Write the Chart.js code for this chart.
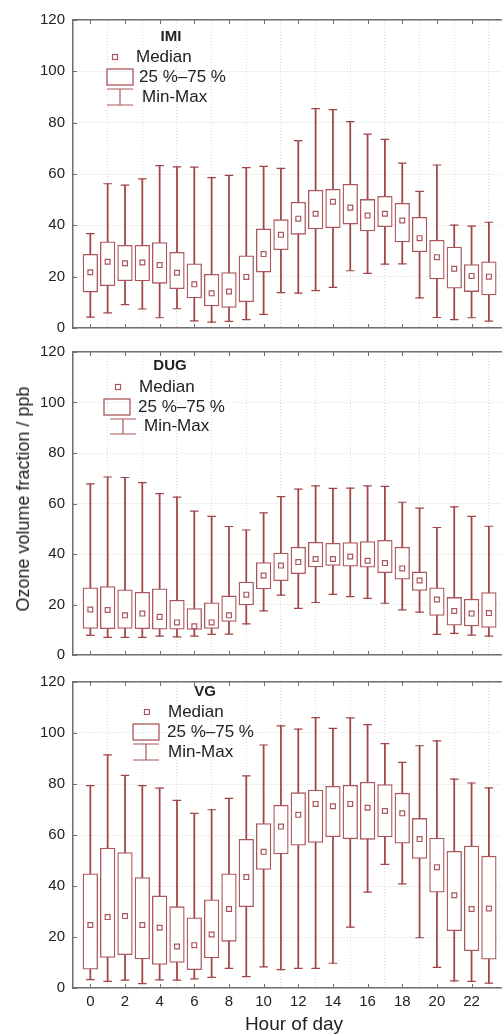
<!DOCTYPE html>
<html>
<head>
<meta charset="utf-8">
<script src="https://cdn.jsdelivr.net/npm/chart.js@4.4.1/dist/chart.umd.min.js"></script>
<style>
  html, body { margin: 0; padding: 0; background: #fff; }
  body { position: relative; width: 502px; height: 1034px; overflow: hidden;
         font-family: "Liberation Sans", Arial, sans-serif; color: #222; }
  canvas { position: absolute; left: 0; }
  .axis-title { position: absolute; white-space: nowrap; }
  #yTitle { left: 23px; top: 499px; font-size: 18px; line-height: 18px;
            transform: translate(-50%, -50%) rotate(-90deg); }
  #xTitle { left: 294px; top: 1014px; font-size: 19px; line-height: 19px;
            transform: translateX(-50%); }
</style>
</head>
<body>
<canvas id="imiChart" width="510" height="345" style="top:0px"></canvas>
<canvas id="dugChart" width="510" height="337" style="top:335px"></canvas>
<canvas id="vgChart" width="510" height="349" style="top:665px"></canvas>
<div class="axis-title" id="yTitle">Ozone volume fraction / ppb</div>
<div class="axis-title" id="xTitle">Hour of day</div>

<script>
// hours of the day
const hours = [0, 1, 2, 3, 4, 5, 6, 7, 8, 9, 10, 11, 12, 13, 14, 15, 16, 17, 18, 19, 20, 21, 22, 23];
const yTicks = [0, 20, 40, 60, 80, 100, 120];
const xTicks = [0, 2, 4, 6, 8, 10, 12, 14, 16, 18, 20, 22];

// IMI
const imiMin = [4.2, 5.9, 9.1, 7.4, 4.0, 7.5, 2.8, 2.3, 2.6, 3.3, 5.3, 13.8, 13.6, 14.6, 15.8, 22.3, 21.3, 24.9, 25.0, 11.7, 4.1, 3.3, 4.0, 2.7];
const imiQ1 = [14.0, 16.5, 18.4, 18.3, 17.4, 15.3, 11.7, 8.6, 8.0, 10.2, 21.8, 30.5, 36.5, 38.6, 39.1, 40.5, 37.8, 39.5, 33.5, 29.7, 19.1, 15.5, 14.2, 12.9];
const imiMedian = [21.7, 25.8, 25.2, 25.5, 24.5, 21.5, 17.0, 13.5, 14.2, 19.9, 28.8, 36.3, 42.6, 44.5, 49.2, 46.9, 43.8, 44.5, 41.9, 35.0, 27.6, 23.1, 20.3, 20.0];
const imiQ3 = [28.7, 33.6, 32.2, 32.2, 33.3, 29.5, 25.0, 20.9, 21.6, 28.1, 38.6, 42.2, 49.0, 53.7, 54.0, 56.0, 50.1, 51.3, 48.6, 43.1, 34.2, 31.5, 24.7, 25.8];
const imiMax = [36.8, 56.2, 55.7, 58.1, 63.3, 62.8, 62.7, 58.6, 59.5, 62.5, 63.0, 62.2, 73.0, 85.5, 85.1, 80.4, 75.5, 73.5, 64.2, 53.2, 63.5, 40.1, 39.7, 41.2];

// DUG
const dugMin = [7.8, 7.0, 7.0, 7.0, 7.5, 7.2, 7.5, 8.2, 8.3, 12.3, 17.5, 23.7, 18.5, 20.8, 24.0, 23.1, 22.4, 20.5, 17.9, 17.0, 8.2, 8.6, 7.9, 7.5];
const dugQ1 = [10.5, 10.4, 10.5, 10.4, 10.2, 10.2, 10.1, 10.5, 13.3, 19.8, 26.2, 29.4, 32.2, 34.9, 35.5, 35.2, 34.8, 32.6, 30.0, 25.6, 15.7, 11.8, 11.5, 10.9];
const dugMedian = [18.0, 17.8, 15.7, 16.4, 15.1, 12.9, 11.4, 12.9, 15.7, 23.9, 31.5, 35.4, 36.8, 38.0, 38.0, 39.0, 37.3, 36.4, 34.3, 29.5, 22.0, 17.4, 16.4, 16.6];
const dugQ3 = [26.6, 27.1, 25.8, 24.8, 26.2, 21.7, 18.4, 20.7, 23.4, 28.9, 36.6, 40.4, 42.7, 44.6, 44.2, 44.5, 44.9, 45.4, 42.7, 32.9, 26.6, 22.8, 22.1, 24.7];
const dugMax = [67.8, 70.5, 70.3, 68.3, 63.9, 62.5, 57.0, 54.9, 50.9, 49.5, 56.3, 62.7, 65.7, 67.0, 66.0, 66.1, 67.0, 66.8, 60.5, 58.2, 50.5, 58.7, 54.9, 51.0];

// VG
const vgMin = [3.3, 2.6, 3.1, 1.7, 3.2, 3.1, 3.6, 4.2, 7.7, 4.5, 8.3, 7.2, 7.7, 7.7, 9.7, 23.9, 37.6, 48.5, 40.8, 19.7, 8.1, 2.8, 2.6, 1.9];
const vgQ1 = [7.4, 12.0, 13.1, 11.4, 9.2, 10.0, 7.2, 11.8, 18.3, 31.9, 46.5, 52.6, 56.0, 57.1, 59.3, 58.5, 58.3, 59.2, 56.8, 50.8, 37.6, 22.5, 14.6, 11.3];
const vgMedian = [24.7, 27.8, 28.2, 24.7, 23.6, 16.3, 16.8, 21.0, 31.0, 43.5, 53.4, 63.3, 67.9, 72.2, 71.3, 72.2, 70.7, 69.4, 68.5, 58.4, 47.4, 36.4, 31.0, 31.2];
const vgQ3 = [44.8, 54.9, 53.1, 43.3, 36.1, 31.9, 27.5, 34.6, 44.8, 58.3, 64.5, 71.7, 76.6, 77.6, 79.1, 79.5, 80.7, 79.8, 76.4, 66.5, 58.8, 53.6, 55.7, 51.7];
const vgMax = [79.4, 91.4, 83.4, 79.4, 78.4, 73.6, 68.5, 69.9, 74.4, 83.2, 95.3, 102.8, 101.5, 106.0, 101.8, 105.9, 103.3, 95.8, 88.5, 95.0, 96.9, 81.9, 80.4, 78.5];

const BOX_COLOR = "#ab565b";
const WHISKER_COLOR = "#a04446";
const FRAME_COLOR = "#707070";
const GRID_COLOR = "#d9d9d9";
const TEXT_COLOR = "#222";
const FONT = '"Liberation Sans", Arial, sans-serif';

Chart.defaults.font.family = FONT;
Chart.defaults.color = TEXT_COLOR;

/**
 * Small inward tick marks on the frame.
 */
const innerTicks = {
  id: "innerTicks",
  afterDraw(chart) {
    const { ctx, chartArea: a, scales } = chart;
    ctx.save();
    ctx.strokeStyle = FRAME_COLOR;
    ctx.lineWidth = 1;
    ctx.beginPath();
    xTicks.forEach((v) => {
      const px = Math.round(scales.x.getPixelForValue(v)) + 0.5;
      ctx.moveTo(px, a.top); ctx.lineTo(px, a.top + 4);
      ctx.moveTo(px, a.bottom); ctx.lineTo(px, a.bottom - 4);
    });
    yTicks.forEach((v) => {
      const py = Math.round(scales.y.getPixelForValue(v)) + 0.5;
      ctx.moveTo(a.left, py); ctx.lineTo(a.left + 4, py);
    });
    ctx.stroke();
    ctx.restore();
  }
};

/**
 * Legend block inside each panel (station name, median, box, whiskers).
 */
const boxLegend = {
  id: "boxLegend",
  afterDraw(chart, args, o) {
    const ctx = chart.ctx;
    ctx.save();
    ctx.fillStyle = TEXT_COLOR;
    ctx.textBaseline = "middle";
    ctx.textAlign = "center";
    ctx.font = "bold 15px " + FONT;
    ctx.fillText(o.title, o.titleX, o.titleY);

    ctx.font = "17px " + FONT;
    ctx.textAlign = "left";
    ctx.fillText("Median", o.medTextX, o.medY);
    ctx.fillText("25 %\u201375 %", o.boxTextX, o.boxY + 8);
    ctx.fillText("Min-Max", o.mmTextX, (o.mmTop + o.mmBottom) / 2);

    ctx.strokeStyle = BOX_COLOR;
    ctx.lineWidth = 1.2;
    ctx.strokeRect(o.medX - 2.5, o.medY - 2.5, 5, 5);
    ctx.lineWidth = 1.3;
    ctx.strokeRect(o.boxX, o.boxY, 26, 16);
    ctx.lineWidth = 1.2;
    ctx.beginPath();
    ctx.moveTo(o.mmX, o.mmTop); ctx.lineTo(o.mmX + 26, o.mmTop);
    ctx.moveTo(o.mmX + 13, o.mmTop); ctx.lineTo(o.mmX + 13, o.mmBottom);
    ctx.moveTo(o.mmX, o.mmBottom); ctx.lineTo(o.mmX + 26, o.mmBottom);
    ctx.stroke();
    ctx.restore();
  }
};

function makePanel(canvasId, mins, q1s, medians, q3s, maxs, lay) {
  const whiskers = hours.map((h, i) => ({ x: h, y: [mins[i], maxs[i]] }));
  const boxes = hours.map((h, i) => ({ x: h, y: [q1s[i], q3s[i]] }));
  const caps = hours.flatMap((h, i) => [{ x: h, y: mins[i] }, { x: h, y: maxs[i] }]);
  const mids = hours.map((h, i) => ({ x: h, y: medians[i] }));

  return new Chart(document.getElementById(canvasId), {
    type: "bar",
    data: {
      datasets: [
        { type: "scatter", data: mids, order: 0, pointStyle: "rect", pointRadius: 3.4,
          pointBorderWidth: 1.2, pointBorderColor: BOX_COLOR, pointBackgroundColor: "#fff" },
        { type: "scatter", data: caps, order: 1, pointStyle: "line", pointRadius: 4.3,
          pointBorderWidth: 1.2, pointBorderColor: WHISKER_COLOR },
        { type: "bar", data: boxes, order: 2, grouped: false, barThickness: 14.6,
          backgroundColor: "#fff", borderColor: BOX_COLOR, borderWidth: 1.3, borderSkipped: false },
        { type: "bar", data: whiskers, order: 3, grouped: false, barThickness: 1.1,
          backgroundColor: WHISKER_COLOR, borderWidth: 0 }
      ]
    },
    options: {
      responsive: false,
      animation: false,
      devicePixelRatio: 1,
      events: [],
      layout: { padding: { top: lay.padTop, left: 0, right: 0, bottom: 0 } },
      plugins: { legend: { display: false }, tooltip: { enabled: false }, boxLegend: lay.legend },
      scales: {
        x: {
          type: "linear", min: -1, max: 23.9, offset: false,
          ticks: { stepSize: 2, includeBounds: false, display: lay.showX, padding: 5,
                   font: { size: 15 }, color: TEXT_COLOR },
          grid: { color: GRID_COLOR, lineWidth: 1, drawTicks: false },
          border: { display: true, color: FRAME_COLOR, width: 1.5, dash: [1, 2] },
          afterFit: (s) => { s.height = lay.axisH; }
        },
        x2: {
          type: "linear", position: "top", min: -1, max: 23.9,
          ticks: { display: false },
          grid: { display: false, drawTicks: false },
          border: { display: true, color: FRAME_COLOR, width: 1.5 },
          afterFit: (s) => { s.height = 0; }
        },
        y: {
          min: 0, max: 120,
          ticks: { stepSize: 20, padding: 8, font: { size: 15 }, color: TEXT_COLOR },
          grid: { color: GRID_COLOR, lineWidth: 1, drawTicks: false },
          border: { display: true, color: FRAME_COLOR, width: 1.5, dash: [1, 2] },
          afterFit: (s) => { s.width = 73; }
        }
      }
    },
    plugins: [innerTicks, boxLegend]
  });
}

makePanel("imiChart", imiMin, imiQ1, imiMedian, imiQ3, imiMax, {
  padTop: 20, axisH: 12, showX: false,
  legend: { title: "IMI", titleX: 171, titleY: 37, medX: 115, medY: 57, medTextX: 136,
            boxX: 107, boxY: 69, boxTextX: 139, mmX: 107, mmTop: 89, mmBottom: 105, mmTextX: 142 }
});

makePanel("dugChart", dugMin, dugQ1, dugMedian, dugQ3, dugMax, {
  padTop: 12, axisH: 12, showX: false,
  legend: { title: "DUG", titleX: 170, titleY: 31, medX: 118, medY: 52, medTextX: 139,
            boxX: 104, boxY: 64, boxTextX: 138, mmX: 110, mmTop: 84, mmBottom: 99, mmTextX: 144 }
});

makePanel("vgChart", vgMin, vgQ1, vgMedian, vgQ3, vgMax, {
  padTop: 11, axisH: 26, showX: true,
  legend: { title: "VG", titleX: 205, titleY: 27, medX: 147, medY: 47, medTextX: 168,
            boxX: 133, boxY: 59, boxTextX: 167, mmX: 133, mmTop: 79, mmBottom: 95, mmTextX: 168 }
});
</script>
</body>
</html>
